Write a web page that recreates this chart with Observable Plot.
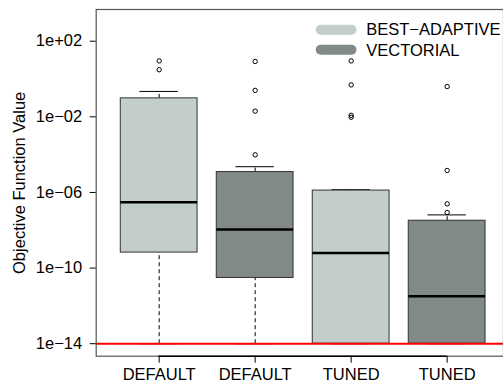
<!DOCTYPE html>
<html><head><meta charset="utf-8">
<script src="https://cdn.jsdelivr.net/npm/d3@7"></script>
<script src="https://cdn.jsdelivr.net/npm/@observablehq/plot@0.6"></script>
<style>body{margin:0;background:#fff}</style>
</head><body><div id="chart"></div>
<script>
const categories = ["DEFAULT", "DEFAULT", "TUNED", "TUNED"];
const series = ["BEST−ADAPTIVE", "VECTORIAL", "BEST−ADAPTIVE", "VECTORIAL"];
const whiskerLow = [1e-14, 1e-14, 1e-14, 1e-14];
const q1 = [6.6e-10, 3.0e-11, 1e-14, 1e-14];
const median = [3.0e-7, 1.1e-8, 6.3e-10, 3.2e-12];
const q3 = [9.5e-2, 1.2e-5, 1.26e-6, 3.2e-8];
const whiskerHigh = [0.22, 2.3e-5, 1.4e-6, 6.5e-8];
const outliers = [
  [9.1, 3.1],
  [8.5, 0.25, 0.02, 9.8e-5],
  [9.1, 0.49, 1.2e-2, 9.5e-3],
  [0.4, 1.45e-5, 2.5e-7, 8.7e-8]
];
const target = [1e-14];
const yTicks = [1e2, 1e-2, 1e-6, 1e-10, 1e-14];
const yTickLabels = ["1e+02", "1e−02", "1e−06", "1e−10", "1e−14"];
const legendLabels = ["BEST−ADAPTIVE", "VECTORIAL"];
const colors = {"BEST−ADAPTIVE": "#c2cdcc", "VECTORIAL": "#818a88"};
const yTitle = "Objective Function Value";

const boxes = categories.map((c, i) => ({
  pos: i + 1, cat: c, series: series[i],
  lo: whiskerLow[i], q1: q1[i], med: median[i], q3: q3[i], hi: whiskerHigh[i]
}));
const outlierRows = outliers.flatMap((arr, i) => arr.map(v => ({pos: i + 1, value: v})));
const yDomain = [Math.pow(10, -14.661), Math.pow(10, 3.677)];
const half = 0.4, cap = 0.2;
const yLabelOf = d => {
  const k = yTicks.findIndex(t => Math.abs(Math.log10(t) - Math.log10(d)) < 1e-6);
  return k >= 0 ? yTickLabels[k] : "";
};

const chart = Plot.plot({
  width: 503, height: 383,
  marginLeft: 95.7, marginRight: 0, marginTop: 9, marginBottom: 27.3,
  style: {fontFamily: "Liberation Sans, Arial, sans-serif", fontSize: "16.5px", background: "white", color: "black"},
  x: {type: "linear", domain: [0.344, 4.587], axis: null},
  y: {type: "log", domain: yDomain, axis: null},
  marks: [
    Plot.ruleX(boxes, {x: "pos", y1: "q3", y2: "hi", stroke: "black", strokeDasharray: "4,3"}),
    Plot.ruleX(boxes, {x: "pos", y1: "lo", y2: "q1", stroke: "black", strokeDasharray: "4,3"}),
    Plot.ruleY(boxes, {y: "hi", x1: d => d.pos - cap, x2: d => d.pos + cap, stroke: "black"}),
    Plot.ruleY(boxes, {y: "lo", x1: d => d.pos - cap, x2: d => d.pos + cap, stroke: "black"}),
    Plot.rect(boxes, {x1: d => d.pos - half, x2: d => d.pos + half, y1: "q1", y2: "q3",
      fill: d => colors[d.series], stroke: "#333", strokeWidth: 1}),
    Plot.ruleY(boxes, {y: "med", x1: d => d.pos - half, x2: d => d.pos + half, stroke: "black", strokeWidth: 2.5}),
    Plot.dot(outlierRows, {x: "pos", y: "value", r: 2.2, stroke: "black", strokeWidth: 1, fill: "none"}),
    Plot.ruleY(target, {stroke: "#ff0000", strokeWidth: 2}),
    Plot.frame({stroke: "#555", strokeWidth: 1.2}),
    Plot.ruleY([yDomain[0]], {x1: 1, x2: 4, stroke: "black", strokeWidth: 1.5}),
    Plot.axisY(yTicks, {tickFormat: yLabelOf, tickSize: 6, tickPadding: 8, label: null, fontSize: 16.5}),
    Plot.axisX([1, 2, 3, 4], {tickFormat: d => categories[d - 1], tickSize: 7, tickPadding: 5, label: null, fontSize: 16.5}),
    Plot.text([yTitle], {frameAnchor: "left", textAnchor: "middle", rotate: -90, dx: -76.5, fontSize: 16.5, fill: "black"}),
    Plot.frame({fill: colors[legendLabels[0]], rx: 5, ry: 5, insetLeft: 219.5, insetRight: 147, insetTop: 15.3, insetBottom: 321.4}),
    Plot.frame({fill: colors[legendLabels[1]], rx: 5, ry: 5, insetLeft: 219.5, insetRight: 147, insetTop: 35.3, insetBottom: 301.4}),
    Plot.text([legendLabels[0]], {frameAnchor: "top-left", dx: 270, dy: 20.5, lineAnchor: "middle", fontSize: 16.5, fill: "black"}),
    Plot.text([legendLabels[1]], {frameAnchor: "top-left", dx: 270, dy: 40.8, lineAnchor: "middle", fontSize: 16.5, fill: "black"})
  ]
});
document.getElementById("chart").appendChild(chart);
</script>
</body></html>
